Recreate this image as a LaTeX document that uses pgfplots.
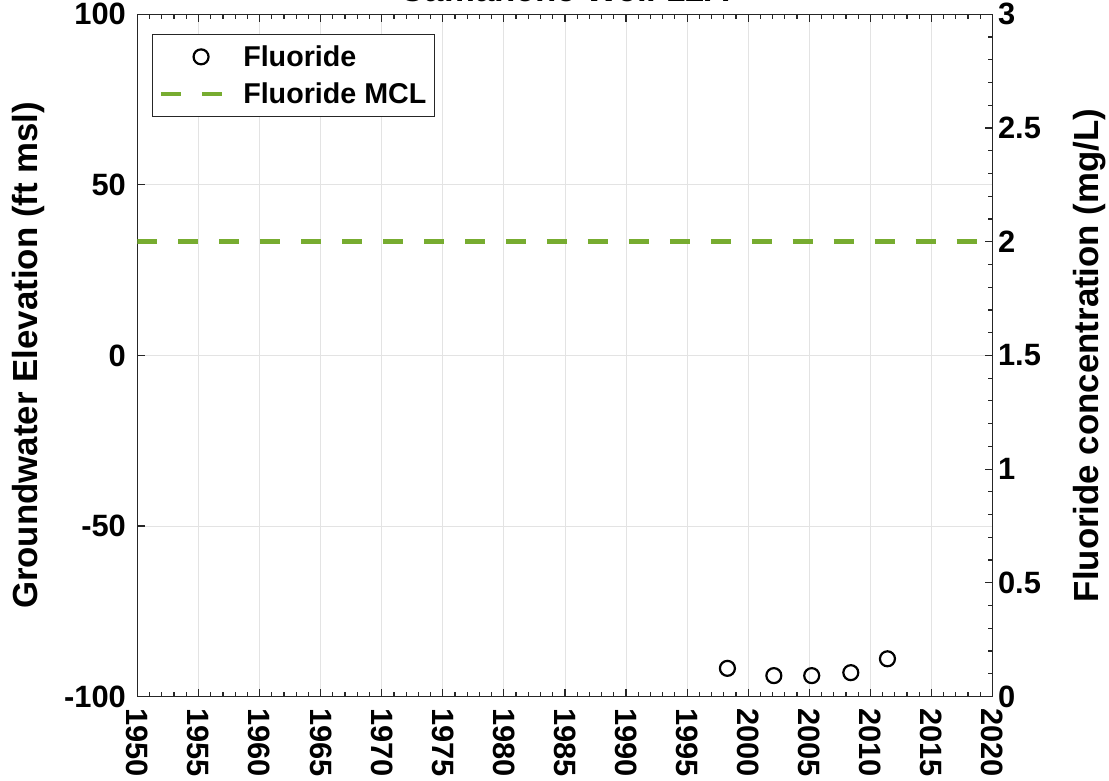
\documentclass[border=0pt]{standalone}
\usepackage{pgfplots}
\pgfplotsset{compat=1.18}
\usepackage{fontspec}
\setmainfont{Liberation Sans}
\definecolor{mclgreen}{RGB}{119,172,48}
\definecolor{axgray}{RGB}{38,38,38}

\pgfplotsset{
  fluoride leg/.style={legend image code/.code={\draw[##1] plot coordinates {(40bp,0bp)};}},
  mcl leg/.style={legend image code/.code={\draw[##1] (0bp,0bp) -- (62bp,0bp);}},
}

\begin{document}
\begin{tikzpicture}
\pgfplotsset{
  every axis/.append style={
    scale only axis, width=856bp, height=683bp,
    xmin=1950, xmax=2020,
    font=\fontsize{31}{36}\selectfont\bfseries,
    tick align=inside,
    major tick length=8bp, minor tick length=5bp,
    axis line style={axgray, line width=1.2bp},
    every tick/.style={axgray, line width=1.2bp},
    tick label style={font=\fontsize{31}{36}\selectfont\bfseries},
    label style={font=\fontsize{35}{40}\selectfont\bfseries},
  },
}
% left axis: elevation, grid, x ticks
\begin{axis}[
  ymin=-100, ymax=100,
  ytick={-100,-50,0,50,100},
  yticklabels={-100,-50,0,50,100},
  ytick pos=left,
  yticklabel shift=8bp,
  xtick={1950,1955,...,2020},
  xticklabels={1950,1955,1960,1965,1970,1975,1980,1985,1990,1995,2000,2005,2010,2015,2020},
  minor x tick num=4,
  xtick pos=both,
  xticklabel shift=8bp,
  xticklabel style={rotate=-90, anchor=west},
  grid=major,
  major grid style={gray!22, line width=0.8bp},
  ylabel={Groundwater Elevation (ft msl)},
  ylabel style={at={(axis description cs:-0.1273,0.5)}, anchor=center},
]
\end{axis}
% right axis: fluoride
\begin{axis}[
  axis x line=none,
  axis y line*=right,
  ymin=0, ymax=3,
  ytick={0,0.5,1,1.5,2,2.5,3},
  yticklabels={0,0.5,1,1.5,2,2.5,3},
  yticklabel shift=2bp,
  minor y tick num=4,
  ylabel={Fluoride concentration (mg/L)},
  ylabel style={at={(axis description cs:1.1133,0.5)}, anchor=center},
  title={Camanche Well 12A},
  title style={overlay, font=\fontsize{35}{40}\selectfont\bfseries, at={(axis description cs:0.5,1)}, anchor=base, yshift=7bp},
  legend style={at={(axis description cs:0.0175,0.9707)}, anchor=north west,
    draw=axgray, line width=1bp, inner xsep=6bp, inner ysep=9bp,
    font=\fontsize{28.8}{33}\selectfont\bfseries, row sep=11bp,
    /tikz/every odd column/.append style={column sep=16bp}},
  legend cell align=left,
]
\addplot[only marks, mark=o, mark size=7.5bp, line width=2.2bp, black, fluoride leg]
  coordinates {
  (1998.3,0.124)
  (2002.1,0.092)
  (2005.2,0.092)
  (2008.4,0.105)
  (2011.4,0.166)
};
\addlegendentry{Fluoride}
\addplot[mclgreen, line width=4.5bp, dash pattern=on 20bp off 21bp, mcl leg]
  coordinates {(1950,2) (2020,2)};
\addlegendentry{Fluoride MCL}
\end{axis}
% a little white room at the left, as in the original
\path (current bounding box.west) -- ++(-9bp,0);
\end{tikzpicture}
\end{document}
